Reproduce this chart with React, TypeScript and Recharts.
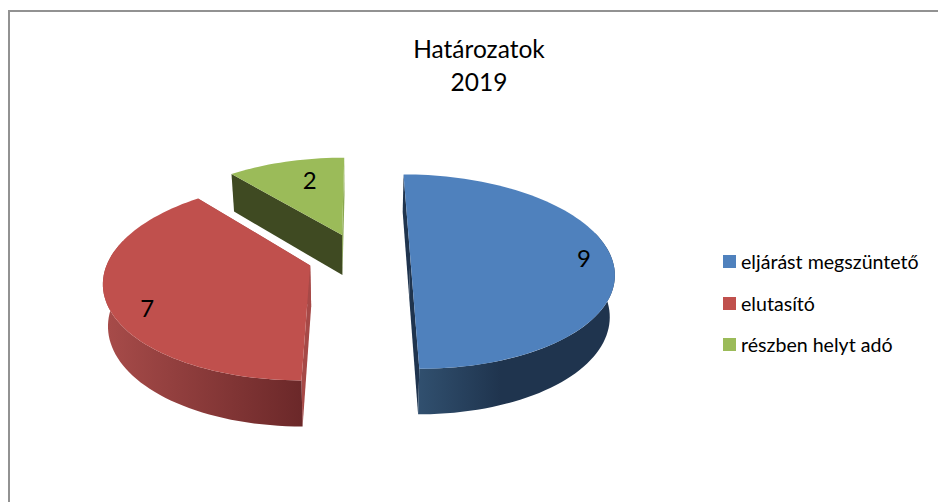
import React from 'react'
import { PieChart, Pie, Legend } from 'recharts'

const CATEGORIES = ['eljárást megszüntető', 'elutasító', 'részben helyt adó']
const VALUES = [9, 7, 2]
const TITLE_LINES = ['Határozatok', '2019']

const TOP_COLORS = ['#4F81BD', '#C0504D', '#9BBB59']
const RIM_COLORS = [
  ['#31506F', '#1F344E'],
  ['#A84C4A', '#6B2829'],
  ['#3F4A22', '#3F4A22'],
]
// start cut face, end cut face
const CUT_COLORS = [
  ['#1F344E', '#1F344E'],
  ['#A64947', '#A64947'],
  ['#8AA84F', '#3F4A22'],
]
const LABEL_NUDGE = [
  [9, 0],
  [3, 14],
  [15, 6],
]

const tableData = CATEGORIES.map((name, i) => ({ name, value: VALUES[i], fill: TOP_COLORS[i] }))

const EXPLODE = 0.255
const SQUASH = 95 / 201
const PERSPECTIVE = 0.15
const RAD = Math.PI / 180

// clockwise degrees from 12 o'clock, radius 1 = outerRadius
const project = (cx: number, cy: number, r: number, px: number, py: number) => {
  const s = 1 / (1 + PERSPECTIVE * py)
  return { x: cx + r * px * s, y: cy - r * SQUASH * py * s, s }
}

const slicePoint = (cx: number, cy: number, r: number, mid: number, theta: number, radius: number) => {
  const px = EXPLODE * Math.sin(mid * RAD) + radius * Math.sin(theta * RAD)
  const py = EXPLODE * Math.cos(mid * RAD) + radius * Math.cos(theta * RAD)
  return project(cx, cy, r, px, py)
}

const drop = (cx: number, p: { x: number; y: number; s: number }) => ({
  x: p.x + (cx - p.x) * 0.02,
  y: p.y + 15 + 26 * p.s,
})

const toPath = (pts: { x: number; y: number }[]) =>
  pts.map((p, i) => `${i ? 'L' : 'M'}${p.x.toFixed(2)},${p.y.toFixed(2)}`).join(' ') + ' Z'

const Slice3D = (props: any) => {
  const { cx, cy, outerRadius, startAngle, endAngle } = props
  const name = props.payload?.name ?? props.name
  const idx = CATEGORIES.indexOf(name)
  const from = 90 - startAngle
  const to = 90 - endAngle
  const mid = (from + to) / 2
  const at = (theta: number, radius = 1) => slicePoint(cx, cy, outerRadius, mid, theta, radius)

  const arc: { x: number; y: number; s: number }[] = []
  for (let t = from; t < to; t += 2) arc.push(at(t))
  arc.push(at(to))
  const apex = at(mid, 0)

  const rimFrom = Math.max(from, 75)
  const rimTo = Math.min(to, 285)
  const rimTop: { x: number; y: number; s: number }[] = []
  if (rimTo > rimFrom) {
    for (let t = rimFrom; t < rimTo; t += 2) rimTop.push(at(t))
    rimTop.push(at(rimTo))
  }
  const rimBottom = rimTop.map(p => drop(cx, p)).reverse()

  const face = (edge: { x: number; y: number; s: number }) =>
    toPath([apex, edge, drop(cx, edge), drop(cx, apex)])

  const gradId = `rim-${idx}`
  return (
    <g>
      <defs>
        <linearGradient id={gradId} x1="0" y1="0" x2="1" y2="0">
          <stop offset="0" stopColor={RIM_COLORS[idx][0]} />
          <stop offset={idx === 0 ? '0.42' : '1'} stopColor={RIM_COLORS[idx][1]} />
        </linearGradient>
      </defs>
      <path d={face(arc[arc.length - 1])} fill={CUT_COLORS[idx][0]} />
      <path d={face(arc[0])} fill={CUT_COLORS[idx][1]} />
      {rimTop.length > 0 && <path d={toPath([...rimTop, ...rimBottom])} fill={`url(#${gradId})`} />}
      <path d={toPath([apex, ...arc])} fill={TOP_COLORS[idx]} />
    </g>
  )
}

const renderValueLabel = (props: any) => {
  const { cx, cy, outerRadius, midAngle, index, value } = props
  // recharts midAngle counts counter-clockwise from 3 o'clock
  const mid = 90 - midAngle
  const p = slicePoint(cx, cy, outerRadius, mid, mid, 0.82)
  return (
    <text
      x={p.x + LABEL_NUDGE[index][0]}
      y={p.y + LABEL_NUDGE[index][1]}
      textAnchor="middle"
      dominantBaseline="central"
      fontFamily="Lato"
      fontSize={24}
      fill="#000"
    >
      {value}
    </text>
  )
}

const LegendList = ({ payload }: any) => (
  <div style={{ fontFamily: 'Lato', fontSize: 19.6, color: '#000' }}>
    {(payload || []).map((entry: any) => (
      <div key={entry.value} style={{ display: 'flex', alignItems: 'center', height: 41.5, whiteSpace: 'nowrap' }}>
        <span style={{ width: 13, height: 13, background: entry.color, marginRight: 5, flex: 'none' }} />
        {entry.value}
      </div>
    ))}
  </div>
)

export default function App() {
  return (
    <div style={{ position: 'absolute', left: 0, top: 0, width: 938, height: 502, background: '#fff' }}>
      <div
        style={{
          position: 'absolute',
          left: 8,
          top: 10,
          right: 0,
          bottom: 0,
          borderTop: '2px solid #929292',
          borderLeft: '2px solid #929292',
        }}
      />
      <div
        style={{
          position: 'absolute',
          left: 0,
          top: 32,
          width: 958,
          textAlign: 'center',
          fontFamily: 'Lato',
          fontSize: 24.5,
          lineHeight: '33px',
          color: '#000',
        }}
      >
        {TITLE_LINES.map(line => (
          <div key={line}>{line}</div>
        ))}
      </div>
      <div style={{ position: 'absolute', left: 0, top: 0 }}>
        <PieChart width={938} height={502} margin={{ top: 0, right: 0, bottom: 0, left: 0 }}>
          <Pie
            data={tableData}
            dataKey="value"
            nameKey="name"
            cx={359}
            cy={257}
            outerRadius={201}
            startAngle={90}
            endAngle={-270}
            stroke="none"
            shape={Slice3D}
            label={renderValueLabel}
            labelLine={false}
            isAnimationActive={false}
          />
          <Legend
            layout="vertical"
            align="right"
            verticalAlign="top"
            content={<LegendList />}
            wrapperStyle={{ left: 723, top: 241, width: 210 }}
          />
        </PieChart>
      </div>
    </div>
  )
}
